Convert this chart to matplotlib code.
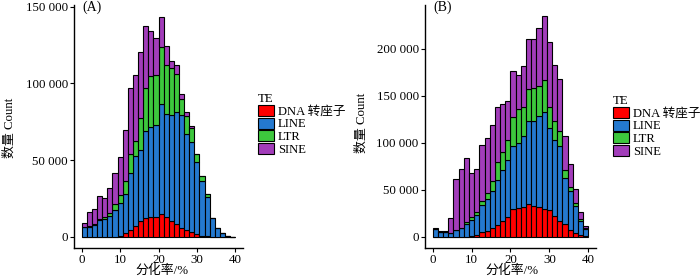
import numpy as np
import matplotlib
matplotlib.use('Agg')
import matplotlib.pyplot as plt
from matplotlib.patches import Patch
from matplotlib.ticker import FuncFormatter

plt.rcParams['font.family'] = ['Liberation Serif', 'Noto Sans CJK SC']
plt.rcParams['font.size'] = 9.3

# 30 bins between 0 and 40 (%), counts
edges = np.linspace(0, 40, 31)
te_names = ['DNA 转座子', 'LINE', 'LTR', 'SINE']
te_colors = ['#FF0000', '#2479CF', '#3DC73D', '#A23DBA']

# (A)
a_dna = [0, 0, 0, 0, 0, 0, 200, 900, 2600, 4800, 6900, 10200, 12300, 13000, 13000,
         14900, 13000, 10200, 8700, 5600, 4300, 3000, 1700, 900, 400, 200, 0, 0, 0, 0]
a_line = [6300, 6300, 7600, 10800, 11700, 13900, 17100, 21200, 25300, 36800, 45500, 46500,
          56700, 58900, 60000, 71400, 66900, 69300, 72900, 73800, 62600, 59100, 46800,
          35300, 25300, 12100, 5600, 2600, 900, 200]
a_ltr = [400, 600, 600, 1100, 1300, 1700, 4300, 5000, 8200, 12300, 10200, 20600, 27700,
         33100, 32500, 37400, 32000, 30300, 24500, 10200, 11900, 8700, 5600, 3700, 2200,
         0, 0, 0, 0, 0]
a_sine = [2400, 9300, 10200, 14500, 12300, 16000, 20300, 24900, 33500, 43300, 42600, 42900,
          40500, 29200, 23800, 19500, 12600, 4800, 5600, 3200, 2400, 1700, 0, 0, 0,
          0, 0, 0, 0, 0]

# (B)
b_dna = [0, 0, 0, 0, 0, 0, 0, 700, 2500, 5300, 6700, 9600, 13100, 16700, 21300, 29800,
         30800, 31900, 35500, 32600, 31900, 29800, 28400, 22700, 17400, 14200, 7800, 4300,
         2500, 700]
b_line = [8900, 5300, 5000, 4300, 7100, 9600, 13800, 17700, 21300, 29100, 34000, 39700,
          47900, 55000, 61000, 66700, 69100, 75200, 88300, 91100, 96500, 102800, 87600,
          80800, 79100, 48600, 40800, 28400, 14200, 7800]
b_ltr = [0, 0, 0, 0, 0, 0, 2100, 2500, 2800, 4300, 6000, 9900, 18800, 18400, 21300, 31200,
         36200, 31200, 33700, 34800, 32600, 34000, 22000, 19500, 16000, 8200, 4600, 3500,
         2500, 1100]
b_sine = [700, 1400, 1800, 16000, 55000, 63100, 68100, 47200, 46100, 58900, 58500, 60300,
          58500, 51400, 41500, 48600, 36200, 44000, 53500, 52500, 61300, 68800, 69100,
          59600, 55000, 36200, 24500, 14900, 7400, 2500]

fig = plt.figure(figsize=(7, 2.8), dpi=100)


def px_axes(l, t, r, b):
    return fig.add_axes([l / 700, 1 - b / 280, (r - l) / 700, (b - t) / 280])


def space_thousands(v, pos):
    return '{:,}'.format(int(v)).replace(',', ' ')


def draw_panel(ax, series, ylim, yticks, tag):
    bottom = np.zeros(len(edges) - 1)
    for vals, col in zip(series, te_colors):
        vals = np.array(vals, dtype=float)
        ax.bar(edges[:-1], vals, width=np.diff(edges), bottom=bottom, align='edge',
               color=col, edgecolor='black', linewidth=0.8)
        bottom += vals
    ax.set_xlim(-2, 42)
    ax.set_ylim(*ylim)
    ax.set_xticks([0, 10, 20, 30, 40])
    ax.set_yticks(yticks)
    ax.yaxis.set_major_formatter(FuncFormatter(space_thousands))
    for s in ['top', 'right']:
        ax.spines[s].set_visible(False)
    ax.spines['left'].set_linewidth(1.0)
    ax.spines['bottom'].set_linewidth(1.0)
    ax.tick_params(direction='out', length=3, width=0.8, pad=1.5, labelsize=9.3)
    ax.text(0.05, 1.018, tag, transform=ax.transAxes, ha='left', va='top', fontsize=10)


ax1 = px_axes(74, 5, 243, 248)
draw_panel(ax1, [a_dna, a_line, a_ltr, a_sine], (-7200, 151000),
           [0, 50000, 100000, 150000], '(A)')
ax2 = px_axes(425, 5, 596, 248)
draw_panel(ax2, [b_dna, b_line, b_ltr, b_sine], (-11750, 246750),
           [0, 50000, 100000, 150000, 200000], '(B)')

fig.text(10 / 700, 1 - 128 / 280, '数量 Count', rotation=90, ha='center', va='center')
fig.text(362 / 700, 1 - 123 / 280, '数量 Count', rotation=90, ha='center', va='center')
fig.text(162 / 700, 1 - 271 / 280, '分化率/%', ha='center', va='center')
fig.text(512 / 700, 1 - 271 / 280, '分化率/%', ha='center', va='center')

handles = [Patch(facecolor=c, edgecolor='black', linewidth=0.8) for c in te_colors]
for lx, ty in [(249, 84), (604, 86)]:
    leg = fig.legend(handles, te_names, title='TE', loc='upper left',
                     bbox_to_anchor=(lx / 700, 1 - ty / 280), frameon=False,
                     handlelength=1.3, handleheight=0.95, handletextpad=0.3,
                     labelspacing=0.0, borderpad=0.2, fontsize=9.1, title_fontsize=9.3)
    leg._legend_box.align = 'left'

fig.savefig('out.png', dpi=100)
